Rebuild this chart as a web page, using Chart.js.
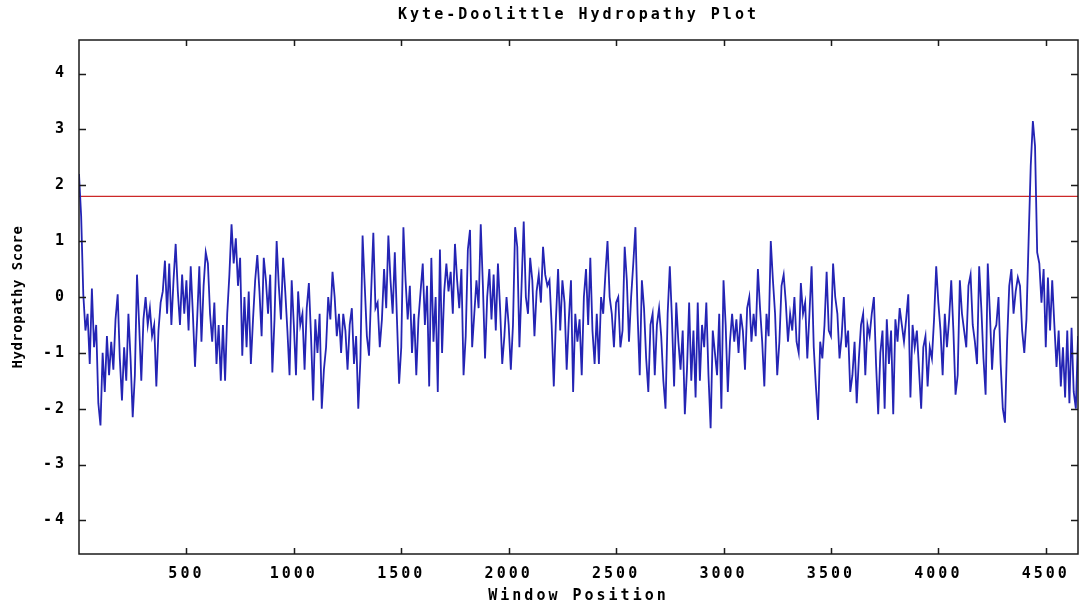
<!DOCTYPE html>
<html>
<head>
<meta charset="utf-8">
<title>Kyte-Doolittle Hydropathy Plot</title>
<script src="https://cdn.jsdelivr.net/npm/chart.js@4.4.1/dist/chart.umd.min.js"></script>
<style>
  html, body { margin: 0; padding: 0; background: #fff; }
</style>
</head>
<body>
<canvas id="hydroChart" width="1082" height="610"></canvas>
<script>
// window positions run from windowStart in steps of windowStep
var windowStart = 0;
var windowStep = 10;

// hydropathy score per window
var scores = [
  2.2, 1.45, 0.05, -0.6, -0.3, -1.2, 0.15, -0.9, -0.5, -1.9,
  -2.3, -1.0, -1.7, -0.7, -1.4, -0.8, -1.3, -0.4, 0.05, -1.1,
  -1.85, -0.9, -1.5, -0.3, -1.1, -2.15, -1.4, 0.4, -0.5, -1.5,
  -0.4, 0.0, -0.5, -0.2, -0.7, -0.5, -1.6, -0.6, -0.1, 0.1,
  0.65, -0.3, 0.6, -0.5, 0.3, 0.95, 0.1, -0.5, 0.4, -0.3,
  0.3, -0.6, 0.55, -0.3, -1.25, -0.4, 0.55, -0.8, 0.2, 0.8,
  0.6, -0.3, -0.8, -0.1, -1.2, -0.5, -1.5, -0.5,
  -1.5, -0.3, 0.4, 1.3, 0.6, 1.05, 0.2, 0.7, -1.05, 0.0,
  -0.9, 0.1, -1.2, -0.4, 0.3, 0.75, 0.1, -0.7, 0.7, 0.3,
  -0.3, 0.4, -1.35, -0.4, 1.0, 0.2, -0.4, 0.7, 0.1, -0.6,
  -1.4, 0.3, -0.5, -1.4, 0.1, -0.5, -0.3, -1.3, -0.2, 0.25,
  -0.7, -1.85, -0.4, -1.0, -0.3, -2.0, -1.3, -0.9, 0.0, -0.4,
  0.45, 0.0, -0.7, -0.3, -1.0, -0.3, -0.6, -1.3, -0.5, -0.2,
  -1.2, -0.7, -2.0, -1.1, 1.1, 0.2, -0.7,
  -1.05, 0.1, 1.15, -0.2, -0.1, -0.9, -0.4, 0.5, -0.2, 1.1,
  0.3, -0.3, 0.8, -0.4, -1.55, -0.9, 1.25, 0.3, -0.4, 0.2,
  -1.0, -0.3, -1.4, -0.4, 0.1, 0.6, -0.5, 0.2, -1.6, 0.7,
  -0.8, 0.0, -1.7, 0.85, -1.0, 0.1, 0.6, 0.1, 0.45, -0.3,
  0.95, 0.3, -0.2, 0.5, -1.4, -0.7, 0.85, 1.2, -0.9, -0.3,
  0.3, -0.2, 1.3, 0.2, -1.1, 0.0, 0.5, -0.4, 0.4, -0.6,
  0.6, -0.2, -1.2, -0.7, 0.0, -0.5,
  -1.3, -0.5, 1.25, 0.9, -0.9, 0.2, 1.35, 0.0, -0.3, 0.7,
  0.3, -0.7, 0.1, 0.4, -0.1, 0.9, 0.4, 0.2, 0.3, -0.5,
  -1.6, -0.4, 0.5, -0.6, 0.3, -0.1, -1.3, -0.4, 0.3, -1.7,
  -0.3, -0.8, -0.4, -1.4, 0.0, 0.5, -0.5, 0.7, -0.6, -1.2,
  -0.3, -1.2, 0.0, -0.3, 0.4, 1.0, 0.0, -0.3, -0.9, -0.1,
  0.0, -0.9, -0.6, 0.9, 0.3, -0.8, 0.0, 0.6, 1.25, -0.3,
  -1.4, 0.3, -0.2, -1.1, -1.7, -0.5, -0.3,
  -1.4, -0.5, -0.2, -0.7, -1.5, -2.0, -0.3, 0.55, -0.4, -1.6,
  -0.1, -0.8, -1.3, -0.6, -2.1, -1.3, -0.1, -1.5, -0.6, -1.8,
  -0.1, -1.5, -0.5, -0.9, -0.1, -1.4, -2.35, -0.6, -1.0, -1.4,
  -0.3, -2.0, 0.3, -0.5, -1.7, -0.8, -0.3, -0.8, -0.4, -1.0,
  -0.3, -0.6, -1.3, -0.2, 0.0, -0.8, -0.3, -0.7, 0.5, -0.2,
  -0.8, -1.6, -0.3, -0.7, 1.0, 0.3, -0.3, -1.4, -0.8, 0.2,
  0.4, -0.1, -0.8, -0.3, -0.6, 0.0,
  -0.8, -1.0, 0.25, -0.3, -0.1, -1.1, -0.3, 0.55, -0.9, -1.6,
  -2.2, -0.8, -1.1, -0.5, 0.45, -0.6, -0.7, 0.6, 0.0, -0.3,
  -1.1, -0.7, 0.0, -0.9, -0.6, -1.7, -1.4, -0.8, -1.9, -1.1,
  -0.5, -0.3, -1.4, -0.5, -0.7, -0.3, 0.0, -1.2, -2.1, -1.0,
  -0.6, -2.0, -0.4, -1.2, -0.6, -2.1, -0.4, -0.8, -0.2, -0.5,
  -0.8, -0.4, 0.05, -1.8, -0.5, -0.9, -0.6, -1.3, -2.0, -0.9,
  -0.7, -1.6, -0.9, -1.1, -0.4, 0.55, -0.1,
  -0.6, -1.4, -0.3, -0.9, -0.4, 0.3, -0.6, -1.75, -1.4, 0.3,
  -0.3, -0.6, -0.9, 0.2, 0.4, -0.5, -0.8, -1.2, 0.55, -0.2,
  -1.1, -1.75, 0.6, -0.3, -1.3, -0.6, -0.5, 0.0, -1.2, -2.0,
  -2.25, -0.8, 0.2, 0.5, -0.3, 0.1, 0.35, 0.2, -0.6, -1.0,
  -0.4, 1.0, 2.35, 3.15, 2.7, 0.8, 0.6, -0.1, 0.5, -0.9,
  0.35, -0.6, 0.3, -0.5, -1.25, -0.6, -1.6, -0.9, -1.8, -0.6,
  -1.9, -0.55, -1.7, -2.0, -0.7
];

var cutoff = 1.8; // the red line
var xTicks = [500, 1000, 1500, 2000, 2500, 3000, 3500, 4000, 4500];
var yTicks = [-4, -3, -2, -1, 0, 1, 2, 3, 4];
var xMax = 4650;
var yLimit = 4.6;

var points = scores.map(function(s, i) {
  return { x: windowStart + i * windowStep, y: s };
});

// gnuplot style box with inward ticks on all four sides, plus wide lettering
var framePlugin = {
  id: 'frame',
  afterLayout: function(chart) {
    var s = chart.scales.y;
    if (!s._plainTitle) {
      var orig = s.drawTitle;
      s.drawTitle = function() {
        var c = this.ctx;
        var keep = c.letterSpacing;
        c.letterSpacing = '0.5px';
        orig.apply(this, arguments);
        c.letterSpacing = keep;
      };
      s._plainTitle = true;
    }
  },
  beforeDraw: function(chart) {
    chart.ctx.letterSpacing = '3px';
  },
  afterDatasetsDraw: function(chart) {
    var ctx = chart.ctx, a = chart.chartArea;
    var xs = chart.scales.x, ys = chart.scales.y;
    ctx.save();
    ctx.strokeStyle = '#1a1a1a';
    ctx.lineWidth = 1.5;
    ctx.beginPath();
    xTicks.forEach(function(v) {
      var p = Math.round(xs.getPixelForValue(v)) + 0.5;
      ctx.moveTo(p, a.bottom); ctx.lineTo(p, a.bottom - 6);
      ctx.moveTo(p, a.top); ctx.lineTo(p, a.top + 6);
    });
    yTicks.forEach(function(v) {
      var p = Math.round(ys.getPixelForValue(v)) + 0.5;
      ctx.moveTo(a.left, p); ctx.lineTo(a.left + 7, p);
      ctx.moveTo(a.right, p); ctx.lineTo(a.right - 7, p);
    });
    ctx.stroke();
    ctx.strokeRect(a.left, a.top, a.right - a.left, a.bottom - a.top);
    ctx.restore();
  }
};

Chart.defaults.font.family = "'DejaVu Sans Mono', monospace";
Chart.defaults.font.size = 15;
Chart.defaults.font.weight = 'bold';
Chart.defaults.color = '#000';

function plainNumber(v) { return String(v); }

new Chart(document.getElementById('hydroChart'), {
  type: 'line',
  data: {
    datasets: [{
      label: 'Hydropathy',
      data: points,
      borderColor: '#2424b4',
      borderWidth: 1.8,
      pointRadius: 0,
      tension: 0,
      fill: false
    }, {
      label: 'Cutoff',
      data: [{ x: 0, y: cutoff }, { x: xMax, y: cutoff }],
      borderColor: '#cc2828',
      borderWidth: 1.2,
      pointRadius: 0,
      fill: false
    }]
  },
  options: {
    responsive: false,
    animation: false,
    devicePixelRatio: 1,
    layout: { padding: { left: 0, right: 4, top: 0, bottom: 0 } },
    plugins: {
      legend: { display: false },
      tooltip: { enabled: false },
      title: {
        display: true,
        text: 'Kyte-Doolittle Hydropathy Plot',
        fullSize: false,
        padding: { top: 6, bottom: 16 },
        font: { size: 15, weight: 'bold' },
        color: '#000'
      }
    },
    scales: {
      x: {
        type: 'linear',
        min: 0,
        max: xMax,
        grid: { display: false },
        border: { display: false },
        ticks: { autoSkip: false, maxRotation: 0, padding: 3, callback: plainNumber },
        afterBuildTicks: function(s) { s.ticks = xTicks.map(function(v) { return { value: v }; }); },
        afterFit: function(s) { s.height = 56; },
        title: { display: true, text: 'Window Position', padding: { top: 0, bottom: 5 } }
      },
      y: {
        type: 'linear',
        min: -yLimit,
        max: yLimit,
        grid: { display: false },
        border: { display: false },
        ticks: { autoSkip: false, padding: 4, callback: plainNumber },
        afterBuildTicks: function(s) { s.ticks = yTicks.map(function(v) { return { value: v }; }); },
        afterFit: function(s) { s.width = 79; },
        title: { display: true, text: 'Hydropathy Score', padding: { top: 10, bottom: 0 }, font: { size: 14, weight: 'bold' } }
      }
    }
  },
  plugins: [framePlugin]
});
</script>
</body>
</html>
